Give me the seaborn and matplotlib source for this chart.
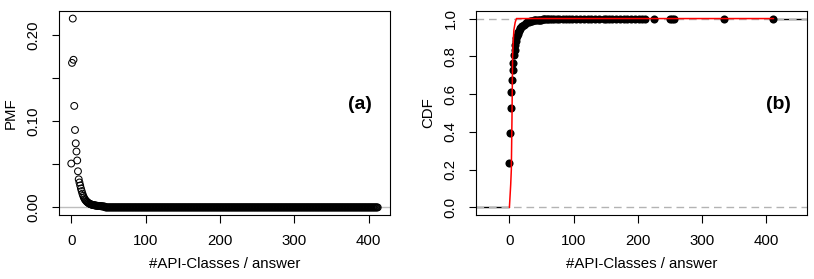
import matplotlib
matplotlib.use("Agg")
import matplotlib.pyplot as plt
import numpy as np
import pandas as pd
import seaborn as sns

# (a) PMF: #API-classes per answer, head read point by point, tail sits on zero
pmf_head = [0.051, 0.168, 0.2195, 0.1716, 0.118, 0.090, 0.0745, 0.065, 0.0546, 0.042,
            0.0327, 0.029, 0.0255, 0.022, 0.019, 0.016, 0.0135, 0.0115, 0.0098, 0.0085,
            0.0075, 0.0066, 0.0058, 0.0052, 0.0046, 0.0041, 0.0037, 0.0034, 0.0031, 0.0029,
            0.0027, 0.0025, 0.0023, 0.0022, 0.0020, 0.0019, 0.0018, 0.0017, 0.0016, 0.0015,
            0.0014, 0.0013, 0.0012, 0.0011, 0.0010, 0.0010]
pmf_tail = [0.0] * (412 - 45)
pmf_vals = pmf_head + pmf_tail
pmf_x = list(range(len(pmf_vals)))

# (b) empirical CDF at the observed values
cdf_x = [0, 1, 2, 3, 4, 5, 6, 7, 8, 9, 10, 11, 12, 13, 14, 15, 16, 17, 18, 19, 20,
         22, 24, 26, 28, 30, 32, 34, 36, 38, 40, 42, 44, 46, 48, 50, 52, 54, 56, 58, 60,
         63, 66, 70, 74, 78, 83, 88, 93, 98, 104, 110, 116, 122, 128, 134, 140, 147,
         150, 155, 160, 166, 172, 178, 184, 190, 196, 202, 207, 211,
         225, 251, 254, 257, 335, 411]
cdf_y = [0.236, 0.395, 0.524, 0.609, 0.677, 0.726, 0.767, 0.806, 0.835, 0.860, 0.880,
         0.895, 0.908, 0.919, 0.928, 0.936, 0.943, 0.949, 0.954, 0.958, 0.962,
         0.968, 0.973, 0.977, 0.980, 0.983, 0.985, 0.987, 0.989, 0.990, 0.991, 0.992,
         0.993, 0.994, 0.995, 0.995, 0.996, 0.996, 0.997, 0.997, 0.997,
         0.998, 0.998, 0.9985, 0.9985, 0.999, 0.999, 0.999, 0.9992, 0.9993, 0.9994,
         0.9995, 0.9995, 0.9996, 0.9996, 0.9997, 0.9997, 0.9997,
         0.9998, 0.9998, 0.9998, 0.9998, 0.9999, 0.9999, 0.9999, 0.9999, 0.9999,
         0.9999, 0.9999, 0.9999,
         0.9999, 0.9999, 0.9999, 1.0, 1.0, 1.0]

# fitted CDF (red)
fit_x = [0, 1, 2, 3, 4, 5, 6, 7, 9, 11, 412]
fit_y = [0.0, 0.06, 0.12, 0.20, 0.47, 0.80, 0.88, 0.94, 0.98, 1.0, 1.0]

xticks = [0, 100, 200, 300, 400]
pmf_yticks = [0.0, 0.05, 0.10, 0.15, 0.20]
pmf_ylabels = ["0.00", "", "0.10", "", "0.20"]
cdf_yticks = [0.0, 0.2, 0.4, 0.6, 0.8, 1.0]
cdf_ylabels = ["0.0", "0.2", "0.4", "0.6", "0.8", "1.0"]

sns.set_theme(style="white")
plt.rcParams["font.family"] = ["Liberation Sans", "DejaVu Sans"]

FS = 10.8

fig = plt.figure(figsize=(8.14, 2.79), dpi=100)
ax1 = fig.add_axes([59 / 814, 64 / 279, 331 / 814, 204 / 279])
ax2 = fig.add_axes([476 / 814, 64 / 279, 331 / 814, 204 / 279])


def r_style(ax):
    for sp in ax.spines.values():
        sp.set_visible(True)
        sp.set_color("black")
        sp.set_linewidth(0.8)
    ax.tick_params(axis="both", direction="out", length=5.4, width=0.8,
                   color="black", labelsize=FS, labelcolor="black",
                   bottom=True, left=True, pad=8)
    for lab in ax.get_yticklabels():
        lab.set_rotation(90)
        lab.set_va("center")


# ---- (a) PMF ----
pmf_df = pd.DataFrame({"x": pmf_x, "pmf": pmf_vals})
ax1.axhline(0, color="#BEBEBE", lw=1, zorder=1)
sns.scatterplot(data=pmf_df, x="x", y="pmf", ax=ax1, marker="o", s=24,
                facecolors="none", edgecolor="black", linewidth=0.75, zorder=2)
ax1.set_xlim(-16.5, 428.5)
ax1.set_ylim(-0.0088, 0.2283)
ax1.set_xticks(xticks)
ax1.set_xticklabels([str(t) for t in xticks])
ax1.set_yticks(pmf_yticks)
ax1.set_yticklabels(pmf_ylabels)
r_style(ax1)
ax1.set_xlabel("#API-Classes / answer", fontsize=FS, color="black")
ax1.set_ylabel("PMF", fontsize=FS, color="black")
ax1.xaxis.set_label_coords(0.5, -0.205)
ax1.yaxis.set_label_coords(-0.125, 0.5)
ax1.text(0.908, 0.544, "(a)", transform=ax1.transAxes, fontsize=14,
         fontweight="bold", ha="center", va="center", color="black")

# ---- (b) CDF ----
xl2 = (-52.1, 464.1)
ax2.plot([xl2[0], cdf_x[0]], [0, 0], color="black", lw=1, zorder=1)
ax2.plot([cdf_x[-1], xl2[1]], [1, 1], color="black", lw=1, zorder=1)
ax2.axhline(0, color="#B3B3B3", lw=1, ls=(0, (5.5, 3.5)), zorder=1.5)
ax2.axhline(1, color="#B3B3B3", lw=1, ls=(0, (5.5, 3.5)), zorder=1.5)
cdf_df = pd.DataFrame({"x": cdf_x, "cdf": cdf_y})
sns.scatterplot(data=cdf_df, x="x", y="cdf", ax=ax2, color="black", s=34,
                linewidth=0, zorder=2)
sns.lineplot(x=fit_x, y=fit_y, ax=ax2, color="red", lw=1.1, zorder=3)
ax2.set_xlim(*xl2)
ax2.set_ylim(-0.04, 1.04)
ax2.set_xticks(xticks)
ax2.set_xticklabels([str(t) for t in xticks])
ax2.set_yticks(cdf_yticks)
ax2.set_yticklabels(cdf_ylabels)
r_style(ax2)
ax2.set_xlabel("#API-Classes / answer", fontsize=FS, color="black")
ax2.set_ylabel("CDF", fontsize=FS, color="black")
ax2.xaxis.set_label_coords(0.5, -0.205)
ax2.yaxis.set_label_coords(-0.122, 0.5)
ax2.text(0.913, 0.544, "(b)", transform=ax2.transAxes, fontsize=14,
         fontweight="bold", ha="center", va="center", color="black")

fig.savefig("out.png", dpi=100, facecolor="white")
